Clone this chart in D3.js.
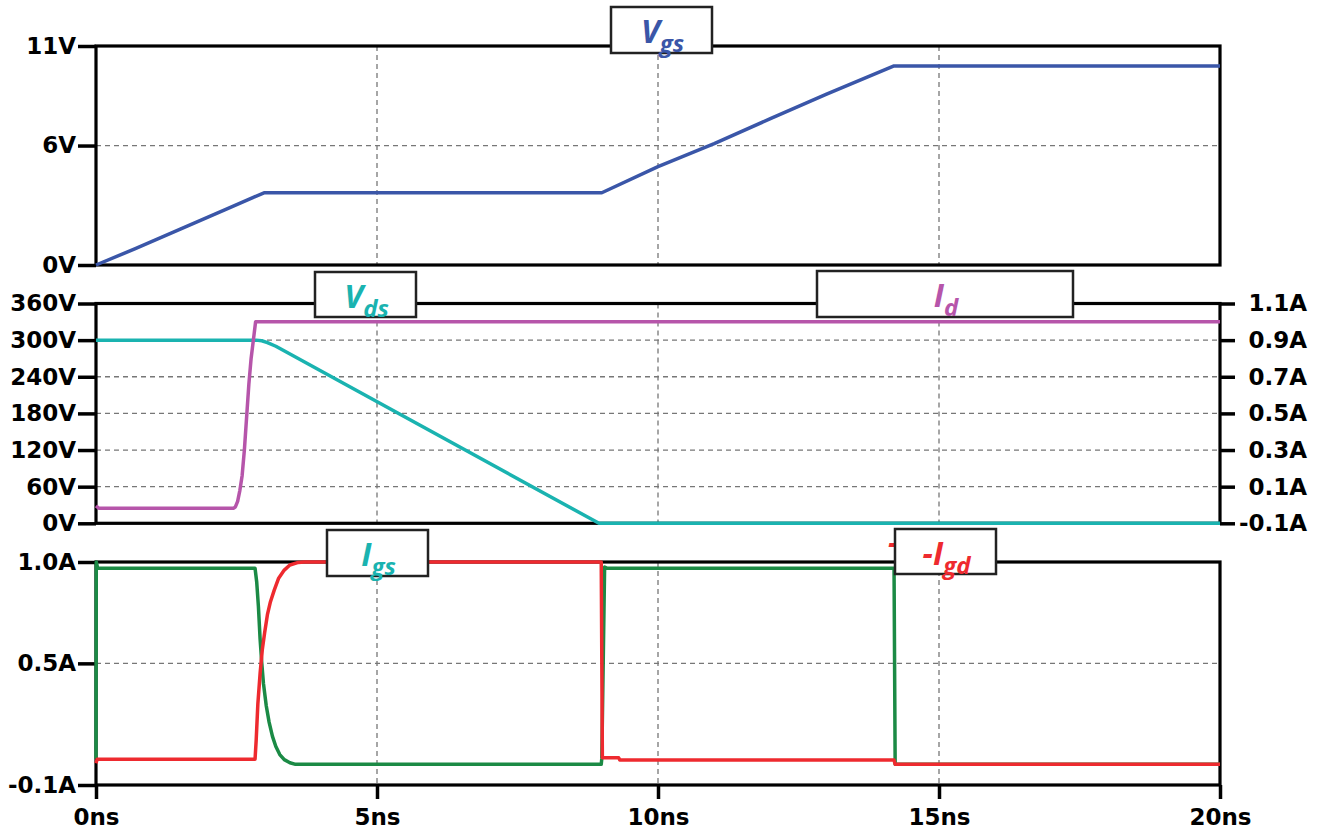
<!DOCTYPE html>
<html>
<head>
<meta charset="utf-8">
<script src="https://cdn.jsdelivr.net/npm/d3@7"></script>
<style>
  body { margin: 0; background: #fff; }
</style>
</head>
<body>
<div id="chart"></div>
<script>
// time axis (ns)
var timeTicks = [0, 5, 10, 15, 20];
var timeLabels = ["0ns", "5ns", "10ns", "15ns", "20ns"];

// tick values / labels per panel
var vgsTicks = [0, 6, 11];
var vgsLabels = ["0V", "6V", "11V"];
var vdsTicks = [0, 60, 120, 180, 240, 300, 360];
var vdsLabels = ["0V", "60V", "120V", "180V", "240V", "300V", "360V"];
var idTicks = [-0.1, 0.1, 0.3, 0.5, 0.7, 0.9, 1.1];
var idLabels = ["-0.1A", "0.1A", "0.3A", "0.5A", "0.7A", "0.9A", "1.1A"];
var igTicks = [-0.1, 0.5, 1.0];
var igLabels = ["-0.1A", "0.5A", "1.0A"];

// traces: [time ns, value]
var vgs = [[0, 0], [0.7, 0.82], [1.5, 1.8], [2.3, 2.78], [2.8, 3.4], [3.0, 3.63],
  [9.0, 3.63], [10.0, 4.94], [11.0, 6.1], [12.0, 7.35], [13.0, 8.58], [14.2, 10.0], [20, 10.0]];
var vds = [[0, 300], [2.85, 300], [2.95, 299], [3.05, 296], [3.2, 290], [8.95, 0], [20, 0]];
var id = [[0, -0.005], [0.05, -0.018], [2.45, -0.018], [2.48, -0.01], [2.52, 0.02], [2.56, 0.08],
  [2.6, 0.16], [2.64, 0.3], [2.68, 0.48], [2.72, 0.66], [2.76, 0.8], [2.80, 0.9], [2.84, 1.0], [20, 1.0]];
var igs = [[0, 0.03], [0.005, 1.0], [0.03, 0.969], [2.83, 0.969], [2.86, 0.9], [2.89, 0.78],
  [2.92, 0.62], [2.95, 0.5], [2.98, 0.4], [3.03, 0.29], [3.08, 0.21], [3.14, 0.14], [3.2, 0.09],
  [3.27, 0.05], [3.35, 0.025], [3.45, 0.01], [3.55, 0.002], [8.99, 0.002],
  [9.0, 0.03], [9.05, 0.975], [9.1, 0.969], [14.2, 0.969], [14.22, 0.002], [20, 0.002]];
var igd = [[0, 0.007], [0.02, 0.027], [2.83, 0.027], [2.85, 0.12], [2.88, 0.3], [2.92, 0.45],
  [2.96, 0.57], [3.0, 0.65], [3.05, 0.74], [3.1, 0.8], [3.17, 0.86], [3.25, 0.92], [3.35, 0.96],
  [3.45, 0.985], [3.6, 0.998], [3.7, 1.0], [8.99, 1.0], [9.01, 0.035],
  [9.3, 0.035], [9.32, 0.023], [14.2, 0.023], [14.22, 0.002], [20, 0.002]];

var W = 1326, H = 834;
var left = 96, right = 1220;

var svg = d3.select("#chart")
  .append("svg")
    .attr("width", W)
    .attr("height", H)
    .style("display", "block");

svg.append("rect").attr("width", W).attr("height", H).attr("fill", "#fff");

var x = d3.scaleLinear().domain([0, 20]).range([left, right]);

var panels = [
  {top: 46, bottom: 265},
  {top: 303.5, bottom: 523.3},
  {top: 562, bottom: 785}
];

var y1 = d3.scaleLinear().domain([0, 11]).range([panels[0].bottom, panels[0].top]);
var y2 = d3.scaleLinear().domain([0, 360]).range([panels[1].bottom, panels[1].top]);
var y2r = d3.scaleLinear().domain([-0.1, 1.1]).range([panels[1].bottom, panels[1].top]);
var y3 = d3.scaleLinear().domain([-0.1, 1.0]).range([panels[2].bottom, panels[2].top]);

var tickFont = "'DejaVu Sans', Verdana, sans-serif";
var titleFont = "'Open Sans', 'DejaVu Sans', sans-serif";

// grid
function grid(p, yScale, yVals) {
  var g = svg.append("g")
    .attr("stroke", "#777")
    .attr("stroke-width", 1.3)
    .attr("stroke-dasharray", "5,4");
  g.selectAll("line.v")
    .data(timeTicks.slice(1, -1))
    .enter().append("line")
      .attr("x1", d => x(d)).attr("x2", d => x(d))
      .attr("y1", p.top).attr("y2", p.bottom);
  g.selectAll("line.h")
    .data(yVals)
    .enter().append("line")
      .attr("x1", left).attr("x2", right)
      .attr("y1", d => yScale(d)).attr("y2", d => yScale(d));
}

grid(panels[0], y1, vgsTicks.slice(1, -1));
grid(panels[1], y2, vdsTicks.slice(1, -1));
grid(panels[2], y3, igTicks.slice(1, -1));

function styleAxis(g) {
  g.select(".domain").remove();
  g.attr("font-family", tickFont).attr("font-size", 23).attr("font-weight", "bold");
  g.selectAll(".tick line").attr("stroke", "#000").attr("stroke-width", 3.5);
  g.selectAll(".tick text").attr("fill", "#000");
}

function leftAxis(scale, ticks, labels) {
  var g = svg.append("g")
    .attr("transform", "translate(" + left + ",0)")
    .call(d3.axisLeft(scale).tickValues(ticks)
      .tickFormat((d, i) => labels[i]).tickSize(18).tickPadding(2));
  styleAxis(g);
}

leftAxis(y1, vgsTicks, vgsLabels);
leftAxis(y2, vdsTicks, vdsLabels);
leftAxis(y3, igTicks, igLabels);

// right axis for Id
var gr = svg.append("g")
  .attr("transform", "translate(" + right + ",0)")
  .call(d3.axisRight(y2r).tickValues(idTicks)
    .tickFormat((d, i) => idLabels[i]).tickSize(15));
styleAxis(gr);
gr.selectAll(".tick text").attr("text-anchor", "end").attr("x", 87);

// bottom time axis
var gb = svg.append("g")
  .attr("transform", "translate(0," + panels[2].bottom + ")")
  .call(d3.axisBottom(x).tickValues(timeTicks)
    .tickFormat((d, i) => timeLabels[i]).tickSize(14));
styleAxis(gb);
gb.selectAll(".tick text").attr("y", 40).attr("dy", 0);

// frames
panels.forEach(function(p) {
  svg.append("rect")
    .attr("x", left).attr("y", p.top)
    .attr("width", right - left).attr("height", p.bottom - p.top)
    .attr("fill", "none")
    .attr("stroke", "#000")
    .attr("stroke-width", 3.2);
});

// traces
function trace(data, yScale, color) {
  svg.append("path")
    .datum(data)
    .attr("fill", "none")
    .attr("stroke", color)
    .attr("stroke-width", 3.5)
    .attr("stroke-linejoin", "round")
    .attr("d", d3.line().x(d => x(d[0])).y(d => yScale(d[1])));
}

trace(vgs, y1, "#3a56a8");
trace(vds, y2, "#1ab3b0");
trace(id, y2r, "#b655aa");
trace(igs, y3, "#1b8a45");
trace(igd, y3, "#ee2a2f");

// hidden label fragment behind the -Igd box
svg.append("text")
  .attr("x", 888).attr("y", 554)
  .attr("font-family", titleFont).attr("font-weight", "bold").attr("font-style", "italic")
  .attr("font-size", 32).attr("fill", "#ee2a2f")
  .text("-");

// title boxes
var titles = [
  {x0: 611, x1: 712, y0: 7, y1: 53, main: "V", sub: "gs", color: "#3a56a8"},
  {x0: 315, x1: 416, y0: 272, y1: 317, main: "V", sub: "ds", color: "#1ab3b0"},
  {x0: 817, x1: 1073, y0: 271, y1: 317, main: "I", sub: "d", color: "#b655aa"},
  {x0: 327, x1: 428, y0: 530, y1: 576, main: "I", sub: "gs", color: "#1ab3b0"},
  {x0: 895, x1: 996, y0: 529, y1: 574, main: "-I", sub: "gd", color: "#ee2a2f"}
];

titles.forEach(function(t) {
  svg.append("rect")
    .attr("x", t.x0).attr("y", t.y0)
    .attr("width", t.x1 - t.x0).attr("height", t.y1 - t.y0)
    .attr("fill", "#fff")
    .attr("stroke", "#222")
    .attr("stroke-width", 2.5);
  var txt = svg.append("text")
    .attr("x", (t.x0 + t.x1) / 2 + 1)
    .attr("y", t.y0 + 36)
    .attr("text-anchor", "middle")
    .attr("font-family", titleFont)
    .attr("font-weight", "bold")
    .attr("font-style", "italic")
    .attr("fill", t.color);
  txt.append("tspan").attr("font-size", 32).text(t.main);
  txt.append("tspan").attr("font-size", 24).attr("dy", 9).text(t.sub);
});
</script>
</body>
</html>
